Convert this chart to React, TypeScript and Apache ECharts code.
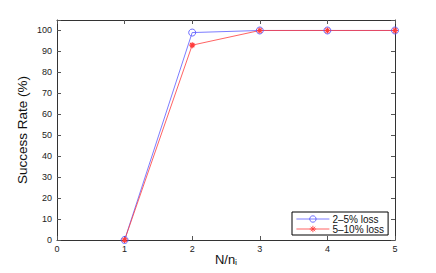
import React, { useEffect, useRef } from "react";
import * as echarts from "echarts";

const xValues = [1, 2, 3, 4, 5];
const loss2to5 = [0, 99, 100, 100, 100];
const loss5to10 = [0, 93, 100, 100, 100];
const seriesNames = ["2\u20135% loss", "5\u201310% loss"];
const xTicks = [0, 1, 2, 3, 4, 5];

const asterisk =
  "path://M5,0L5,10M0,5L10,5M1.5,1.5L8.5,8.5M1.5,8.5L8.5,1.5";

export default function App() {
  const ref = useRef<HTMLDivElement>(null);
  useEffect(() => {
    if (!ref.current) return;
    const chart = echarts.init(ref.current, undefined, { renderer: "svg" });
    const font = "'Liberation Sans', Arial, sans-serif";
    const axisLineStyle = { color: "#333", width: 1 };
    const baseX = {
      type: "value" as const,
      min: xTicks[0],
      max: xTicks[xTicks.length - 1],
      interval: 1,
      splitLine: { show: false },
      axisLine: { show: true, onZero: false, lineStyle: axisLineStyle },
      axisTick: { show: true, inside: true, length: 4, lineStyle: { color: "#555" } },
    };
    const baseY = {
      type: "value" as const,
      min: 0,
      max: 105,
      interval: 10,
      splitLine: { show: false },
      axisLine: { show: true, onZero: false, lineStyle: axisLineStyle },
      axisTick: { show: true, inside: true, length: 4, lineStyle: { color: "#555" } },
    };
    const blue = "#5a5aff";
    const red = "#ff3b3b";
    chart.setOption({
      animation: false,
      backgroundColor: "#fff",
      grid: {
        left: 57,
        right: 41,
        top: 20,
        bottom: 33,
        containLabel: false,
        outerBoundsMode: "none",
      },
      xAxis: [
        {
          ...baseX,
          position: "bottom",
          axisLabel: { color: "#222", fontSize: 9, fontFamily: font, margin: 4 },
          name: "{main|N/n}{sub|i}",
          nameLocation: "middle",
          nameGap: 13,
          nameMoveOverlap: false,
          nameTextStyle: {
            color: "#111",
            fontSize: 13,
            fontFamily: font,
            lineHeight: 18,
            rich: {
              main: { fontSize: 13, fontFamily: font, color: "#111", verticalAlign: "top", lineHeight: 14 },
              sub: { fontSize: 9, fontFamily: font, color: "#111", verticalAlign: "bottom", lineHeight: 9 },
            },
          },
        },
        { ...baseX, position: "top", axisLabel: { show: false } },
      ],
      yAxis: [
        {
          ...baseY,
          position: "left",
          axisLabel: {
            color: "#222",
            fontSize: 9,
            fontFamily: font,
            margin: 5,
            formatter: (v: number) => (v > 100 ? "" : String(v)),
          },
          name: "Success Rate (%)",
          nameLocation: "middle",
          nameGap: 28,
          nameMoveOverlap: false,
          nameTextStyle: { color: "#111", fontSize: 13.5, fontFamily: font },
        },
        { ...baseY, position: "right", axisLabel: { show: false } },
      ],
      legend: {
        left: 292,
        top: 212,
        width: 97,
        orient: "vertical",
        backgroundColor: "#fff",
        borderColor: "#000",
        borderWidth: 1,
        borderRadius: 0,
        padding: [2, 4, 1, 4],
        itemGap: 0,
        itemWidth: 33,
        itemHeight: 8,
        itemStyle: { borderWidth: 0.9 },
        lineStyle: { width: 0.8 },
        textStyle: { fontSize: 10, fontFamily: font, color: "#111", padding: [0, 0, 0, -2] },
        data: seriesNames,
      },
      series: [
        {
          name: seriesNames[0],
          type: "line",
          data: xValues.map((x, i) => [x, loss2to5[i]]),
          symbol: "circle",
          symbolSize: 7,
          color: blue,
          lineStyle: { width: 0.8, color: blue },
          itemStyle: { color: "rgba(255,255,255,0)", borderColor: blue, borderWidth: 0.9 },
        },
        {
          name: seriesNames[1],
          type: "line",
          data: xValues.map((x, i) => [x, loss5to10[i]]),
          symbol: asterisk,
          symbolSize: 6,
          color: red,
          lineStyle: { width: 0.8, color: red },
          itemStyle: { color: red, borderColor: red, borderWidth: 1.2 },
        },
      ],
    });
    return () => chart.dispose();
  }, []);
  return <div ref={ref} style={{ width: 436, height: 273, margin: -8 }} />;
}
